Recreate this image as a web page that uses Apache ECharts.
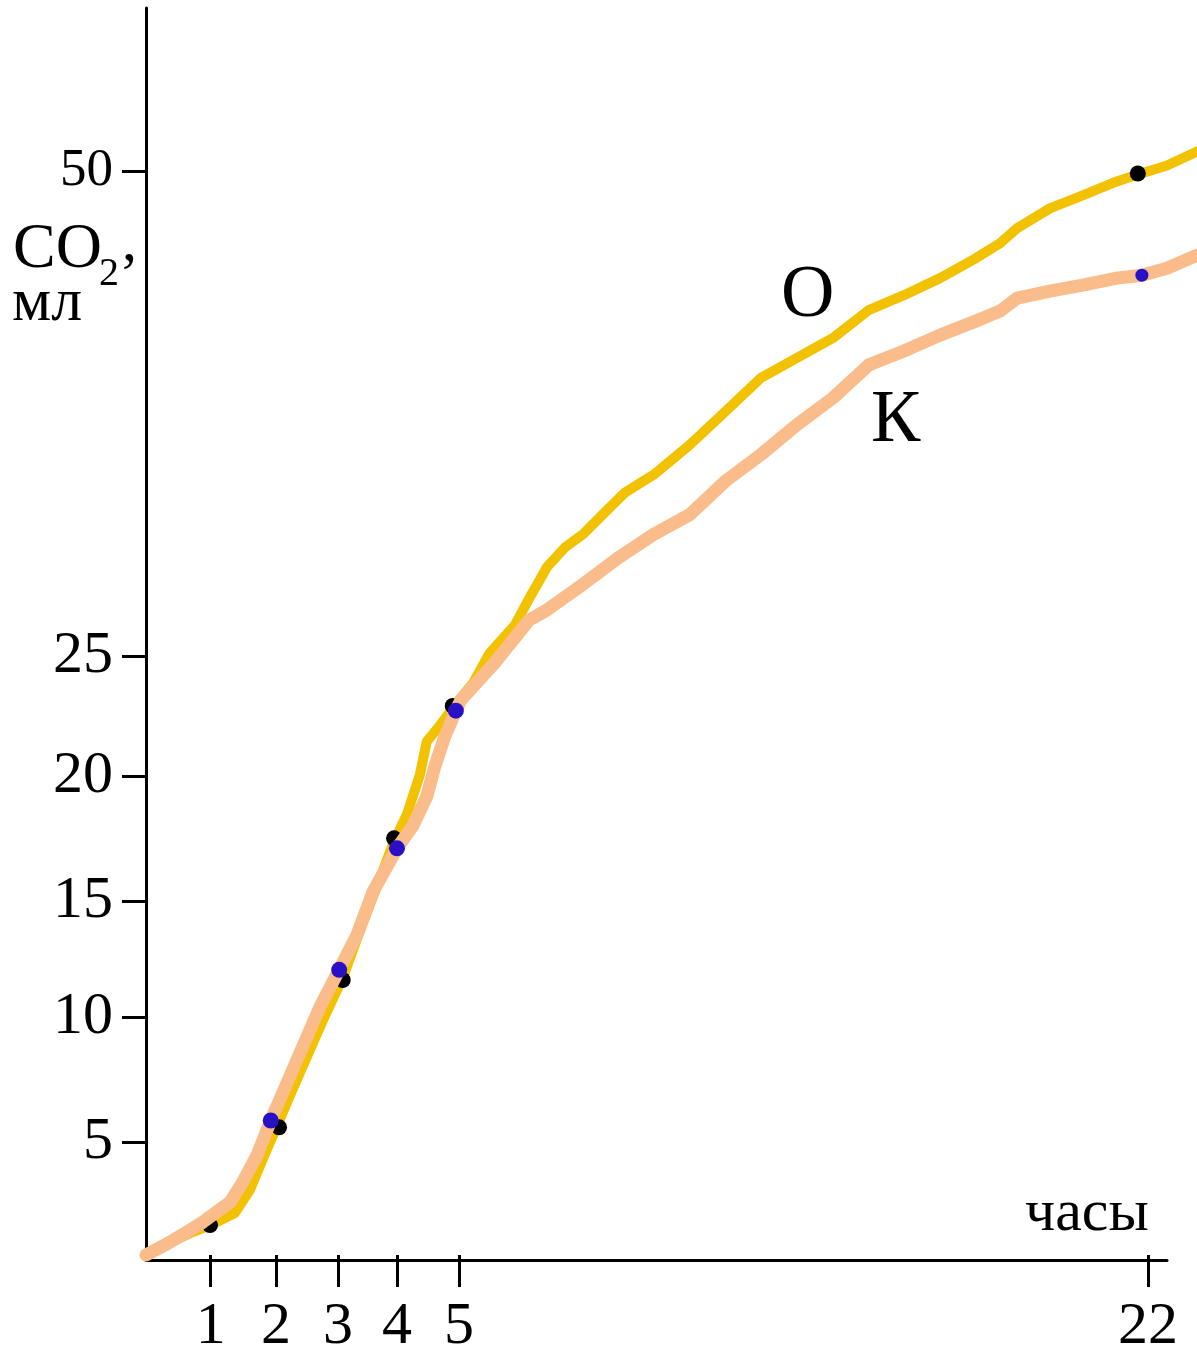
<!DOCTYPE html>
<html>
<head>
<meta charset="utf-8">
<script src="https://cdn.jsdelivr.net/npm/echarts@6/dist/echarts.min.js"></script>
<style>
html,body{margin:0;padding:0;background:#fff;}
#c{width:1197px;height:1357px;}
</style>
</head>
<body>
<div id="c"></div>
<script>
// ---- data (hours, ml CO2) ----
const hoursO = [0,0.29,0.68,1.00,1.37,1.60,1.79,2.02,2.26,2.52,2.79,3.08,3.37,3.66,3.95,4.16,4.37,4.48,4.69,4.94,5.35,5.76,6.38,6.75,7.17,7.62,8.06,8.60,9.10,9.81,10.70,11.59,12.45,13.34,14.23,15.11,15.98,16.87,17.75,18.35,18.77,19.58,20.39,21.23,21.75,22.47,23.21];
const co2O   = [0,0.44,0.97,1.33,1.86,2.88,4.20,5.67,7.06,8.53,10.04,11.68,13.71,15.60,17.40,18.48,20.08,21.45,22.11,22.98,23.88,25.15,26.59,28.03,29.58,30.61,31.28,32.41,33.44,34.36,35.91,37.65,39.35,40.38,41.41,42.85,43.62,44.50,45.52,46.30,47.07,48.10,48.77,49.49,49.85,50.31,51.03];

const hoursK = [0,0.29,0.56,0.88,1.30,1.49,1.71,1.92,2.34,2.71,3.02,3.32,3.59,4.00,4.26,4.48,4.61,4.77,4.95,5.05,5.86,6.73,7.17,8.06,8.95,9.81,10.70,11.59,12.45,13.34,14.23,15.11,15.98,16.87,17.75,18.35,18.77,19.58,20.39,21.23,21.85,22.47,23.21];
const co2K   = [0,0.44,0.89,1.46,2.35,3.23,4.43,5.87,8.29,10.43,12.03,13.53,15.36,17.12,18.04,19.20,20.41,21.65,22.73,23.18,24.67,26.85,27.37,28.70,30.09,31.28,32.30,34.05,35.39,36.93,38.32,40.02,40.74,41.56,42.28,42.80,43.47,43.83,44.14,44.50,44.65,45.01,45.68];

// measured points (markers)
const pointsOHours  = [0.99,2.05,3.08,3.95,4.90,21.75];
const pointsOValues = [1.33,5.60,11.59,17.52,22.93,49.90];
const pointsKHours  = [1.92,3.02,4.00,4.95,21.85];
const pointsKValues = [5.87,12.03,17.12,22.73,44.65];

// tick labels
const xTicks = [1,2,3,4,5,22];
const yTicks = [5,10,15,20,25,50];

// ---- the drawing's hand-made, non-uniform axis scales (value -> axis position) ----
const X_SCALE_VALUES = [0,1,2,3,4,5,22];
const X_SCALE_POS    = [0,1.025,2.060,3.043,3.978,4.960,15.880];
const Y_SCALE_VALUES = [0,5,10,15,20,25,50];
const Y_SCALE_POS    = [0,4.722,9.988,14.835,20.059,25.115,45.424];

function makeScale(vals, pos) {
  return v => {
    let i = 0;
    while (i < vals.length - 2 && v > vals[i + 1]) i++;
    return pos[i] + (v - vals[i]) * (pos[i + 1] - pos[i]) / (vals[i + 1] - vals[i]);
  };
}
const fx = makeScale(X_SCALE_VALUES, X_SCALE_POS);
const fy = makeScale(Y_SCALE_VALUES, Y_SCALE_POS);
const labelFor = (ticks, f) => v => {
  let best = ticks[0], d = Infinity;
  ticks.forEach(t => { const e = Math.abs(f(t) - v); if (e < d) { d = e; best = t; } });
  return best;
};
const xLabel = labelFor(xTicks, fx);
const yLabel = labelFor(yTicks, fy);

const X_VIEW_END = 23.21;   // curves run to the picture edge
const X_AXIS_END = 22.47;   // drawn axis line stops here
const Y_AXIS_END = 58.44;

const pair = (hs, vs) => hs.map((h, i) => [fx(h), fy(vs[i])]);
const FONT = '"Liberation Serif","Times New Roman",serif';

const chart = echarts.init(document.getElementById('c'), null, {renderer: 'canvas'});
chart.setOption({
  backgroundColor: '#fff',
  animation: false,
  grid: [
    {left: 146, top: 8, width: 1051, height: 1252, containLabel: false},
    {left: 146, top: 8, width: 1021, height: 1252, containLabel: false}
  ],
  xAxis: [
    {
      gridIndex: 0, type: 'value', min: 0, max: fx(X_VIEW_END),
      splitLine: {show: false},
      axisLine: {show: false, onZero: false},
      axisTick: {show: true, customValues: xTicks.map(fx), length: 32, lineStyle: {color: '#000', width: 3}},
      axisLabel: {
        customValues: xTicks.map(fx), margin: 42, color: '#000', fontSize: 60, fontFamily: FONT,
        formatter: v => String(xLabel(v))
      }
    },
    {
      gridIndex: 1, type: 'value', min: 0, max: fx(X_AXIS_END),
      splitLine: {show: false},
      axisLine: {show: true, onZero: false, lineStyle: {color: '#000', width: 3}},
      axisTick: {show: false}, axisLabel: {show: false}
    }
  ],
  yAxis: [
    {
      gridIndex: 0, type: 'value', min: 0, max: fy(Y_AXIS_END),
      splitLine: {show: false},
      axisLine: {show: true, onZero: false, lineStyle: {color: '#000', width: 3}},
      axisTick: {show: true, customValues: yTicks.map(fy), length: 24, lineStyle: {color: '#000', width: 3}},
      axisLabel: {
        customValues: yTicks.map(fy), margin: 33, color: '#000', fontSize: 60, fontFamily: FONT,
        formatter: v => { const n = yLabel(v); return n === 50 ? '{s|50}' : String(n); },
        rich: {s: {fontSize: 53, fontFamily: FONT, color: '#000'}}
      }
    },
    {gridIndex: 1, type: 'value', min: 0, max: fy(Y_AXIS_END), show: false}
  ],
  series: [
    {
      name: 'О', type: 'line', xAxisIndex: 0, yAxisIndex: 0, data: pair(hoursO, co2O),
      showSymbol: false, clip: false, z: 2,
      lineStyle: {color: '#f2c200', width: 10, cap: 'round', join: 'round'}
    },
    {
      name: 'О точки', type: 'scatter', xAxisIndex: 0, yAxisIndex: 0, data: pair(pointsOHours, pointsOValues),
      clip: false, z: 3, symbolSize: 16, itemStyle: {color: '#000000', opacity: 1}
    },
    {
      name: 'К', type: 'line', xAxisIndex: 0, yAxisIndex: 0, data: pair(hoursK, co2K),
      showSymbol: false, clip: false, z: 4,
      lineStyle: {color: '#f9bc8a', width: 13, cap: 'round', join: 'round'}
    },
    {
      name: 'К точки', type: 'scatter', xAxisIndex: 0, yAxisIndex: 0, data: pair(pointsKHours, pointsKValues),
      clip: false, z: 5, symbolSize: (d, p) => p.dataIndex === 4 ? 13 : 16,
      itemStyle: {color: '#2a10c4', opacity: 1}
    }
  ],
  graphic: [
    {type: 'text', left: 13, top: 218, style: {text: 'CO', fontSize: 64, fontFamily: FONT, fill: '#000'}},
    {type: 'text', left: 99, top: 254, style: {text: '2', fontSize: 40, fontFamily: FONT, fill: '#000'}},
    {type: 'text', left: 119, top: 247, style: {text: '’', fontSize: 60, fontFamily: FONT, fill: '#000'}},
    {type: 'text', left: 12, top: 273, style: {text: 'мл', fontSize: 62, fontFamily: FONT, fill: '#000'}},
    {type: 'text', left: 1025, top: 1184, style: {text: 'часы', fontSize: 60, fontFamily: FONT, fill: '#000'}},
    {type: 'text', left: 781, top: 260, style: {text: 'О', fontSize: 74, fontFamily: FONT, fill: '#000'}},
    {type: 'text', left: 871, top: 385, style: {text: 'К', fontSize: 74, fontFamily: FONT, fill: '#000'}}
  ]
});
</script>
</body>
</html>
